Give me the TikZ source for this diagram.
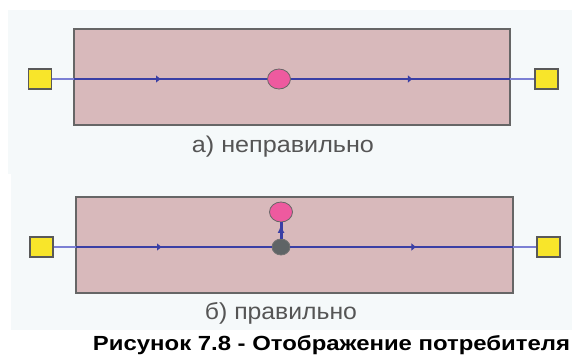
\documentclass[tikz,border=0pt]{standalone}
\usepackage{fontspec}
\usepackage{graphicx}
\setmainfont{Liberation Sans}
\usetikzlibrary{arrows.meta,decorations.markings,shapes.geometric}
\definecolor{panel}{HTML}{F5F9FA}
\definecolor{boxfill}{HTML}{D8B9BB}
\definecolor{boxline}{HTML}{666666}
\definecolor{sqfill}{HTML}{F8E52A}
\definecolor{pinkc}{HTML}{EE5A9F}
\definecolor{grayc}{HTML}{5F6466}
\definecolor{pipe}{HTML}{3A3FA5}
\definecolor{pipelight}{HTML}{7C80D4}
\definecolor{labelc}{HTML}{555555}
\begin{document}
\begin{tikzpicture}[x=1pt,y=-1pt,
  zone/.style={draw=boxline, line width=1.3pt, fill=boxfill, inner sep=0pt, outer sep=0pt},
  term/.style={draw=black!65, line width=1.1pt, fill=sqfill, minimum width=23pt, minimum height=20pt, inner sep=0pt},
  consumer/.style={ellipse, draw=black!60, line width=0.8pt, fill=pinkc, minimum width=23pt, minimum height=20pt, inner sep=0pt},
  junction/.style={ellipse, draw=black!55, line width=0.8pt, fill=grayc, minimum width=18pt, minimum height=16pt, inner sep=0pt},
  pipein/.style={draw=pipe, line width=2.6pt},
  pipeout/.style={draw=pipelight, line width=2.5pt},
  midarrow/.style={postaction={decorate}, decoration={markings, mark=at position #1 with {\arrow{Latex[length=5pt,width=8pt]}}}},
  uparrow/.style={postaction={decorate}, decoration={markings, mark=at position #1 with {\arrow{Latex[length=8pt,width=7pt]}}}},
  lab/.style={text=labelc, inner sep=0pt},
  captext/.style={text=black, inner sep=0pt},
]
\useasboundingbox (0,0) rectangle (572,356);
\fill[white] (0,0) rectangle (572,356);
\fill[panel] (8,10) rectangle (572,174);
\fill[panel] (11,174) rectangle (572,330);

% --- a) ---
\node[zone, minimum width=436pt, minimum height=96pt] (zoneA) at (292,77) {};
\node[term] (sqAL) at (40,79) {};
\node[term] (sqAR) at (546.5,79) {};
\node[consumer] (consA) at (279,79) {};
\coordinate (aL) at (zoneA.west |- sqAL);
\coordinate (aR) at (zoneA.east |- sqAR);
\draw[pipeout] (sqAL.east) -- (aL);
\draw[pipein, midarrow=87pt] (aL) -- (consA);
\draw[pipein, midarrow=122pt] (consA) -- (aR);
\draw[pipeout] (aR) -- (sqAR.west);
\node[lab] (labA) at (283,147) {\resizebox{182pt}{16.5pt}{а) неправильно}};

% --- b) ---
\node[zone, minimum width=437pt, minimum height=96pt] (zoneB) at (294.5,245) {};
\node[term] (sqBL) at (41.5,247) {};
\node[term] (sqBR) at (548.5,247) {};
\node[junction] (junc) at (281,247) {};
\node[consumer] (consB) at (281,212) {};
\coordinate (bL) at (zoneB.west |- sqBL);
\coordinate (bR) at (zoneB.east |- sqBR);
\draw[pipeout] (sqBL.east) -- (bL);
\draw[pipein, midarrow=86pt] (bL) -- (junc);
\draw[pipein, midarrow=126pt] (junc) -- (bR);
\draw[pipeout] (bR) -- (sqBR.west);
\draw[pipein, line width=3pt, uparrow=0.85] (junc) -- (consB);
\node[lab] (labB) at (281,313) {\resizebox{152pt}{17pt}{б) правильно}};

% --- caption ---
\node[captext] (caption) at (331.5,345) {\resizebox{477pt}{15pt}{\bfseries Рисунок 7.8 - Отображение потребителя}};
\end{tikzpicture}
\end{document}
